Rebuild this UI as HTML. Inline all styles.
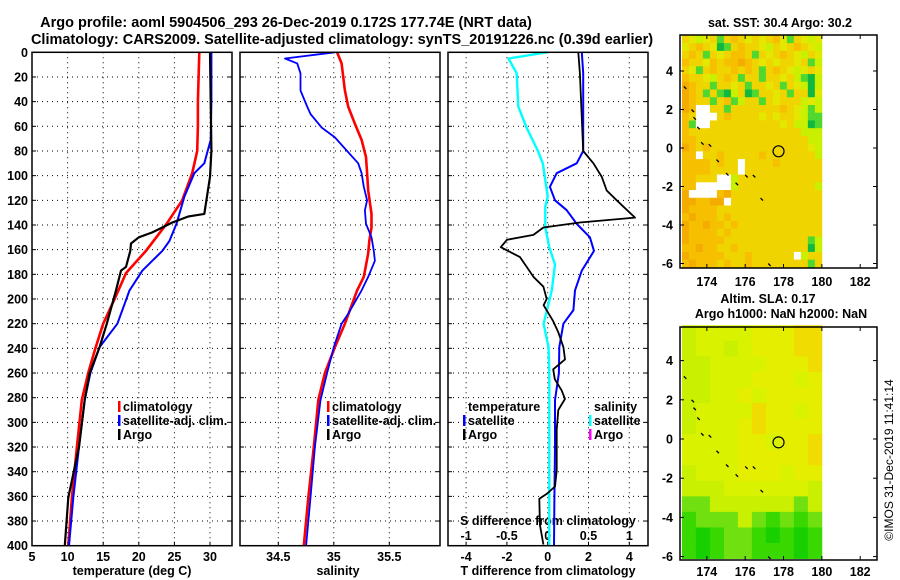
<!DOCTYPE html>
<html><head><meta charset="utf-8"><style>
html,body{margin:0;padding:0;background:#fff;}
svg{display:block;font-family:"Liberation Sans",sans-serif;font-weight:bold;}
</style></head><body>
<svg id="c" width="900" height="580" viewBox="0 0 900 580" xmlns="http://www.w3.org/2000/svg">
<text x="286" y="27" text-anchor="middle" font-size="14.5">Argo profile: aoml 5904506_293 26-Dec-2019 0.172S 177.74E (NRT data)</text>
<text x="342" y="44" text-anchor="middle" font-size="14.5">Climatology: CARS2009. Satellite-adjusted climatology: synTS_20191226.nc (0.39d earlier)</text>
<text x="132" y="575" text-anchor="middle" font-size="12.5">temperature (deg C)</text>
<text x="338" y="575" text-anchor="middle" font-size="12.5">salinity</text>
<text x="548" y="575" text-anchor="middle" font-size="12.5">T difference from climatology</text>
<text x="548" y="525" text-anchor="middle" font-size="12.5">S difference from climatology</text>
<text x="780" y="27" text-anchor="middle" font-size="12.5">sat. SST: 30.4 Argo: 30.2</text>
<text x="768" y="303" text-anchor="middle" font-size="12.5">Altim. SLA: 0.17</text>
<text x="781" y="318" text-anchor="middle" font-size="12.5">Argo h1000: NaN h2000: NaN</text>
<text x="0" y="0" transform="translate(893,460) rotate(-90)" text-anchor="middle" font-size="12" font-weight="normal">©IMOS 31-Dec-2019 11:41:14</text>
</svg>
<script>
// ---------- data ----------
const depthTicks = [0,20,40,60,80,100,120,140,160,180,200,220,240,260,280,300,320,340,360,380,400];
const tempTicks = [5,10,15,20,25,30];
const salTicks = [34.5,35,35.5];
const salTickLabels = ["34.5","35","35.5"];
const dTTicks = [-4,-2,0,2,4];
const dSTicks = [-1,-0.5,0,0.5,1];
const dSTickLabels = ["-1","-0.5","0","0.5","1"];

const climTDepth = [0,20,40,60,80,98,120,139,161,179,200,220,240,260,282,320,361,400];
const climT = [28.5,28.4,28.3,28.3,28.2,27.5,26.1,23.9,21.0,18.2,16.6,15.0,13.9,12.9,12.0,11.3,10.6,10.1];
const satTDepth = [0,20,40,71,90,98,117,139,153,161,177,193,220,239,260,282,320,361,400];
const satT = [30.2,30.2,30.2,30.1,29.2,27.8,26.4,25.3,24.3,23.3,20.5,18.7,17.0,14.5,13.2,12.4,11.6,10.8,10.2];
const argoTDepth = [0,40,80,101,131,133,138,142,146,150,155,161,174,177,193,220,239,260,282,320,361,400];
const argoT = [30.0,30.1,30.2,30.0,29.2,27.0,24.7,23.3,21.9,20.0,18.9,18.8,18.2,17.5,16.8,15.5,14.5,13.1,12.4,11.6,10.1,9.6];

const climSDepth = [0,9,31,44,58,71,85,98,112,131,142,153,163,182,193,220,239,260,282,320,361,400];
const climS = [35.03,35.07,35.1,35.13,35.19,35.25,35.29,35.30,35.31,35.34,35.34,35.32,35.31,35.27,35.21,35.10,35.01,34.92,34.86,34.82,34.77,34.73];
const satSDepth = [0,5,9,17,31,44,50,61,69,80,90,98,109,120,128,139,150,161,169,182,193,212,220,239,260,282,320,361,400];
const satS = [35.01,34.56,34.67,34.70,34.70,34.76,34.79,34.89,35.01,35.12,35.22,35.25,35.27,35.30,35.28,35.29,35.34,35.36,35.37,35.31,35.25,35.13,35.07,35.00,34.94,34.88,34.83,34.79,34.75];

const dTsatDepth = [0,17,80,90,98,109,120,128,139,150,161,177,193,209,220,239,260,282,320,361,400];
const dTsat = [1.67,1.74,1.74,1.42,0.44,0.11,0.36,0.93,1.42,2.07,2.27,1.67,1.34,1.26,0.77,0.57,0.55,0.36,0.36,0.33,0.31];
const dTargoDepth = [0,17,80,90,101,112,120,134,138,142,148,152,158,166,174,182,190,200,205,218,227,239,249,257,265,274,281,290,306,320,339,352,358,362,383,399];
const dTargo = [1.5,1.58,1.74,2.24,2.65,2.89,3.38,4.28,1.58,-0.21,-0.7,-2.0,-2.3,-1.36,-1.03,-0.7,-0.21,-0.05,-0.2,0.27,0.52,0.77,0.85,0.27,0.35,0.68,0.85,0.52,0.44,0.44,0.44,0.36,-0.05,-0.41,-0.38,-0.21];
const dSsatDepth = [0,5,17,44,61,80,90,117,125,142,158,172,193,220,239,260,300,400];
const dSsat = [-0.01,-0.48,-0.38,-0.36,-0.26,-0.12,-0.06,0,-0.03,-0.03,0.02,0.09,0.05,-0.05,0.01,0.02,0.02,0.02];

const latTicks = [4,2,0,-2,-4,-6];
const lonTicks = [174,176,178,180,182];
const argoLon = 177.74;
const argoLat = -0.172;
const sstGrid = [
"yYgYyGyOyYyYyOYGyYgY","YyOyYDGyOyyYgyYyOyYg","yOyGyYyOOyGyYyOyYgyY","OyyYOyOOoOyYyYyyYyGg",
"yYGyOyyOyOyGyOyYgYyY","OyyYgyOyGyyGyyYygGDg","oOyyGyyYyGyyYyGyYgDg","oOyGyGDgyDGyyYyGyyDY",
"oOyyGyOGgyyGyYyyygYg","oOwwyyGyyyyyyyOyYgGg","OywwwyOyyyyYyYyyYgGG","OGwwyyyyyyyyyyYyggDG",
"Oyyyyyyyyyyyyyyyyggg","OOyyyyyyyyyyyyyyyygg","oOyOyyyyyyyyyyyyyyYg","OOwyyOyyyyyOyyyyyyyg",
"OOOOyOyywyyyyOyyyyyy","OOOOyyyywyyyyyyyyyyy","OOyyywwgyyyyyyyyyyyy","OOwwwwwgyyyyyyyyyyyg",
"owwwwOoyyyyyyyyyyyyy","ooOOoowyyyyyyyyyyyyy","oOOOOyyyyyyyyyyyyyyy","OoOOOyOyyyyyyyyyyyyy",
"oOOoOOyOyyyyyyyyyyyy","oOOOOyOyyyyyyyyyyyyy","oOOOOOyyyyyyyyyyyyGg","OOoOOyyOyyyyyyyyyyDg",
"oOOOOOyyyOyyyyyywgyy","OoOOOyOyyOyyyyyyyyGy"];
const slaGrid = [
"abbbbcccdd","abbabcccdd","aabbbbcccd","aabbbcccbc","aabbcbcccc","abbbbdccbc","abbbcdcccc","bbbbccbccd",
"bbbbcccccd","abbbcccbcc","aaabbbbbba","GGaaaaaaGa","HGGGaGHGHG","HDHGGHDHDH","HDHGGHHHDH"];
const islandLon = [172.8,173.2,173.3,173.5,173.7,174.1,174.5,175.0,175.5,176.0,176.4,176.8,177.2];
const islandLat = [3.2,2.0,1.6,1.1,0.3,0.2,-0.6,-1.3,-1.8,-1.4,-1.4,-2.6,-6.0];

// ---------- scales ----------
const Y0 = 52.3, YH = 493.4;
const yD = d => Y0 + d * YH / 400;
const xT = t => 32 + (t - 5) * 7.12;
const xS = s => 278.3 + (s - 34.5) * 111;
const xDT = v => 547.7 + v * 20.4;
const xDS = v => 547.7 + v * 81.6;
const lonX = l => 680 + (l - 172.6) * 19.17;
const latY1 = l => 148 + (0 - l) * 19.25;
const latY2 = l => 439 + (0 - l) * 19.6;

const NS = "http://www.w3.org/2000/svg";
const svg = document.getElementById("c");
function mk(tag, attrs, parent) {
  const e = document.createElementNS(NS, tag);
  for (const k in attrs) e.setAttribute(k, attrs[k]);
  (parent || svg).appendChild(e);
  return e;
}
function txt(s, attrs) { const e = mk("text", attrs); e.textContent = s; return e; }

const panels = [{x0:32,x1:232,n:"temperature"},{x0:240,x1:440,n:"salinity"},{x0:448,x1:648,n:"difference"}];

panels.forEach(p => {
  depthTicks.forEach((d, i) => {
    if (i === 0 || i === depthTicks.length - 1) return;
    const g = mk("line", {x1:p.x0, x2:p.x1, y1:yD(d), y2:yD(d), stroke:"#000", "stroke-width":1, "stroke-dasharray":"1,4"});
    
    
    const t1 = mk("line", {x1:p.x0, x2:p.x0+4, y1:yD(d), y2:yD(d), stroke:"#000"});
    
    
    const t2 = mk("line", {x1:p.x1-4, x2:p.x1, y1:yD(d), y2:yD(d), stroke:"#000"});
    
    
  });
});
function vgrid(vals, fx, n) {
  vals.forEach(v => {
    const g = mk("line", {x1:fx(v), x2:fx(v), y1:Y0, y2:Y0+YH, stroke:"#000", "stroke-width":1, "stroke-dasharray":"1,4"});
    
    
    const t = mk("line", {x1:fx(v), x2:fx(v), y1:Y0+YH-4, y2:Y0+YH, stroke:"#000"});
    
    
  });
}
vgrid(tempTicks.slice(1), xT, "temperature");
vgrid(salTicks, xS, "salinity");
vgrid(dTTicks, xDT, "t-difference");

depthTicks.forEach(d => {
  const t = txt(String(d), {x:28, y:yD(d)+4.5, "text-anchor":"end", "font-size":12.5});
  
  
});
tempTicks.forEach(v => {
  const t = txt(String(v), {x:xT(v), y:561, "text-anchor":"middle", "font-size":12.5});
  
  
});
salTicks.forEach((v, i) => {
  const t = txt(salTickLabels[i], {x:xS(v), y:561, "text-anchor":"middle", "font-size":12.5});
  
  
});
dTTicks.forEach(v => {
  const t = txt(String(v), {x:xDT(v), y:561, "text-anchor":"middle", "font-size":12.5});
  
  
});
dSTicks.forEach((v, i) => {
  const t = txt(dSTickLabels[i], {x:xDS(v), y:540, "text-anchor":"middle", "font-size":12.5});
  
  
});

function series(ds, vs, fx, color, w, n) {
  const pts = ds.map((d, i) => fx(vs[i]).toFixed(1) + "," + yD(d).toFixed(1)).join(" ");
  const l = mk("polyline", {points:pts, fill:"none", stroke:color, "stroke-width":w, "stroke-linejoin":"round"});
  
  
}
series(climTDepth, climT, xT, "#ff0000", 2.6, "temperature-climatology-line");
series(satTDepth, satT, xT, "#0000ff", 2, "temperature-satellite-line");
series(argoTDepth, argoT, xT, "#000000", 2.2, "temperature-argo-line");
series(climSDepth, climS, xS, "#ff0000", 2.6, "salinity-climatology-line");
series(satSDepth, satS, xS, "#0000ff", 1.8, "salinity-satellite-line");
series(dSsatDepth, dSsat, xDS, "#00ffff", 2.4, "s-difference-satellite-line");
series(dTsatDepth, dTsat, xDT, "#0000ff", 2, "t-difference-satellite-line");
series(dTargoDepth, dTargo, xDT, "#000000", 1.8, "t-difference-argo-line");

panels.forEach(p => {
  const r = mk("rect", {x:p.x0, y:Y0, width:p.x1-p.x0, height:YH, fill:"none", stroke:"#000", "stroke-width":1.5});
  
  
});

function legEntry(x, y, color, label, n) {
  if (color) {
    const m = mk("rect", {x:x, y:y-10, width:2.5, height:11, fill:color});
    
    
  }
  const t = txt(label, {x:x+5, y:y, "font-size":12.5});
  
  
}
[[118,"temperature"],[327,"salinity"]].forEach(([x, n]) => {
  legEntry(x, 411, "#ff0000", "climatology", n + "-legend-climatology");
  legEntry(x, 425, "#0000ff", "satellite-adj. clim.", n + "-legend-satellite");
  legEntry(x, 439, "#000000", "Argo", n + "-legend-argo");
});
legEntry(463, 411, null, "temperature", "difference-legend-temperature-header");
legEntry(463, 425, "#0000ff", "satellite", "difference-legend-t-satellite");
legEntry(463, 439, "#000000", "Argo", "difference-legend-t-argo");
legEntry(589, 411, null, "salinity", "difference-legend-salinity-header");
legEntry(589, 425, "#00ffff", "satellite", "difference-legend-s-satellite");
legEntry(589, 439, "#ff00ff", "Argo", "difference-legend-s-argo");

const sstColors = {o:"#f4ac00", O:"#f6c000", y:"#f0d400", Y:"#e4e800", g:"#c8f000", G:"#50d830", D:"#10b840", w:"#ffffff"};
const slaColors = {a:"#c8f000", b:"#d8f200", c:"#e6ee00", d:"#f0dc00", G:"#70e010", H:"#38d800", D:"#18d000"};
function heat(grid, colors, latY, latTop, latBot, n) {
  const rows = grid.length, cols = grid[0].length;
  const lonW = (180 - 172.7) / cols, latH = (latTop - latBot) / rows;
  grid.forEach((row, r) => {
    for (let c = 0; c < cols; c++) {
      const x0 = lonX(172.7 + c*lonW), x1 = lonX(172.7 + (c+1)*lonW);
      const y0 = latY(latTop - r*latH), y1 = latY(latTop - (r+1)*latH);
      const e = mk("rect", {x:x0.toFixed(2), y:y0.toFixed(2), width:(x1-x0+0.4).toFixed(2), height:(y1-y0+0.4).toFixed(2), fill:colors[row[c]]});
      
      
    }
  });
}
function mapAxes(latY, yTop, yBot, n, lonLabelY) {
  islandLon.forEach((lo, i) => {
    const e = mk("line", {x1:lonX(lo), y1:latY(islandLat[i]), x2:lonX(lo)+2.5, y2:latY(islandLat[i])+2.5, stroke:"#000", "stroke-width":1.3});
    
    
  });
  const c = mk("circle", {cx:lonX(argoLon), cy:latY(argoLat), r:5.5, fill:"none", stroke:"#000", "stroke-width":1.2});
  
  
  const fr = mk("rect", {x:680, y:yTop, width:197, height:yBot-yTop, fill:"none", stroke:"#000", "stroke-width":1.5});
  
  
  latTicks.forEach(l => {
    const t = txt(String(l), {x:673, y:latY(l)+4.5, "text-anchor":"end", "font-size":12.5});
    
    
    const k = mk("line", {x1:680, x2:684, y1:latY(l), y2:latY(l), stroke:"#000"});
    
    
    const k2 = mk("line", {x1:873, x2:877, y1:latY(l), y2:latY(l), stroke:"#000"});
    
    
  });
  lonTicks.forEach(l => {
    const t = txt(String(l), {x:lonX(l), y:lonLabelY, "text-anchor":"middle", "font-size":12.5});
    
    
    const k = mk("line", {x1:lonX(l), x2:lonX(l), y1:yBot-4, y2:yBot, stroke:"#000"});
    
    
    const k2 = mk("line", {x1:lonX(l), x2:lonX(l), y1:yTop, y2:yTop+4, stroke:"#000"});
    
    
  });
}
heat(sstGrid, sstColors, latY1, 5.85, -6.2, "sst-map");
mapAxes(latY1, 35, 268, "sst-map", 286);
heat(slaGrid, slaColors, latY2, 5.8, -6.1, "sla-map");
mapAxes(latY2, 327, 560, "sla-map", 576);
</script>
</body></html>
